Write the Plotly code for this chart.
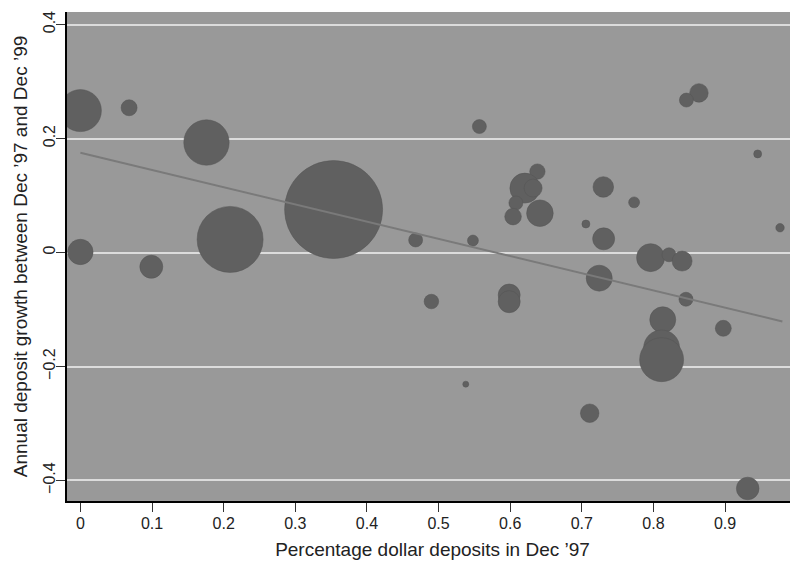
import plotly.graph_objects as go

# Percentage dollar deposits in Dec '97 (x) and annual deposit growth (y)
dollar_share = [0.000, 0.068, 0.176, 0.209, 0.000, 0.099, 0.3535, 0.557, 0.468, 0.548,
                0.490, 0.638, 0.6205, 0.632, 0.608, 0.604, 0.6415, 0.5986, 0.5986, 0.538,
                0.9455, 0.730, 0.773, 0.7057, 0.7305, 0.796, 0.8217, 0.840, 0.9767, 0.7243,
                0.8454, 0.813, 0.8975, 0.8114, 0.8114, 0.711, 0.9316, 0.8635, 0.846]
deposit_growth = [0.249, 0.254, 0.193, 0.023, 0.001, -0.025, 0.0754, 0.221, 0.022, 0.021,
                  -0.086, 0.142, 0.113, 0.113, 0.087, 0.063, 0.069, -0.0746, -0.0863, -0.231,
                  0.173, 0.115, 0.088, 0.050, 0.024, -0.009, -0.004, -0.015, 0.0435, -0.045,
                  -0.082, -0.118, -0.133, -0.1675, -0.188, -0.282, -0.414, 0.280, 0.2675]
# relative deposit size (bubble area)
deposit_size = [441, 64, 515, 1089, 161, 132, 2401, 49, 49, 30,
                53, 59, 225, 81, 49, 69, 177, 121, 121, 9,
                16, 106, 30, 16, 121, 196, 49, 100, 18, 169,
                49, 169, 64, 324, 484, 86, 128, 86, 49]

# fitted regression line
fit_x = [0.0, 0.98]
fit_y = [0.175, -0.121]

x_ticks = [0, 0.1, 0.2, 0.3, 0.4, 0.5, 0.6, 0.7, 0.8, 0.9, 1]
x_tick_text = ["0", "0.1", "0.2", "0.3", "0.4", "0.5", "0.6", "0.7", "0.8", "0.9", "1"]
y_ticks = [-0.4, -0.2, 0, 0.2, 0.4]
y_tick_text = ["\u22120.4", "\u22120.2", "0", "0.2", "0.4"]

fig = go.Figure()
fig.add_trace(go.Scatter(
    x=dollar_share, y=deposit_growth, mode="markers",
    marker=dict(size=deposit_size, sizemode="area", sizeref=0.5,
                color="#606060", opacity=1,
                line=dict(color="#555555", width=0.5)),
    hoverinfo="x+y", showlegend=False))
fig.add_trace(go.Scatter(
    x=fit_x, y=fit_y, mode="lines",
    line=dict(color="#7a7a7a", width=2), showlegend=False))

family = "Liberation Sans, Arial, sans-serif"
font = dict(family=family, size=16, color="#222222")
fig.update_layout(
    width=790, height=554,
    margin=dict(l=59, r=0, t=4, b=61),
    paper_bgcolor="white", plot_bgcolor="#999999",
    font=font,
    xaxis=dict(range=[-0.0187, 1.0018], tickvals=x_ticks, ticktext=x_tick_text,
               automargin=False,
               showgrid=False, zeroline=False, showline=True, linecolor="black",
               linewidth=1.5, ticks="outside", ticklen=9, tickwidth=1.2,
               tickcolor="#333333", ticklabelstandoff=-2, ticklabeloverflow="allow",
               title=dict(text="Percentage dollar deposits in Dec \u201997", standoff=12)),
    yaxis=dict(range=[-0.436, 0.422], tickvals=y_ticks, ticktext=y_tick_text,
               automargin=False,
               tickangle=-90, showgrid=True, gridcolor="#dcdcdc", gridwidth=2,
               zeroline=False, showline=True, linecolor="black", linewidth=1.5,
               ticks="outside", ticklen=9, tickwidth=1.2, tickcolor="#333333",
               ticklabelstandoff=-5,
               title=dict(text="Annual deposit growth between Dec \u201997 and Dec \u201999",
                          standoff=8)),
)
fig.write_html("out.html")
